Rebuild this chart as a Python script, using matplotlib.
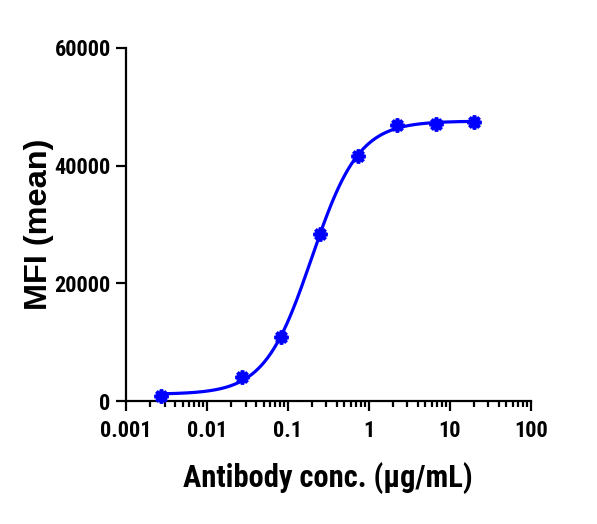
import numpy as np
import matplotlib
matplotlib.use("Agg")
import matplotlib.pyplot as plt
from matplotlib.ticker import LogLocator, NullFormatter, FixedLocator

plt.rcParams['font.family'] = ['Roboto Condensed', 'Liberation Sans', 'DejaVu Sans']
plt.rcParams['font.weight'] = 'bold'

# measured points
conc = [0.00274, 0.0274, 0.0823, 0.247, 0.741, 2.22, 6.67, 20.0]
mfi = [850, 4030, 10830, 28330, 41700, 46910, 47080, 47370]

x_ticks = [0.001, 0.01, 0.1, 1, 10, 100]
x_ticklabels = ["0.001", "0.01", "0.1", "1", "10", "100"]
y_ticks = [0, 20000, 40000, 60000]

blue = "#0000ff"


def fit_4pl(x, y):
    # crude grid search on log EC50 and hill, bottom/top by least squares
    lx = np.log10(np.asarray(x, float))
    y = np.asarray(y, float)
    best = None
    for le in np.linspace(-1.5, 0.0, 301):
        for h in np.linspace(0.5, 3.0, 251):
            f = 1.0 / (1.0 + 10 ** ((le - lx) * h))
            A = np.column_stack([1 - f, f])
            coef, *_ = np.linalg.lstsq(A, y, rcond=None)
            err = np.sum((A @ coef - y) ** 2)
            if best is None or err < best[0]:
                best = (err, coef[0], coef[1], le, h)
    return best[1:]


bottom, top, logec50, hill = fit_4pl(conc, mfi)
xs = np.logspace(np.log10(conc[0]), np.log10(conc[-1]), 400)
ys = bottom + (top - bottom) / (1 + 10 ** ((logec50 - np.log10(xs)) * hill))

fig = plt.figure(figsize=(5.97, 5.24), dpi=100)
ax = fig.add_axes([0.211, 0.2347, 0.678, 0.6737])

ax.plot(xs, ys, color=blue, lw=2.3, zorder=2)
ax.plot(conc, mfi, ls="none", marker=(8, 2, 0), ms=10, mew=2.6,
        color=blue, zorder=3, clip_on=False)

ax.set_xscale("log")
ax.set_xlim(0.001, 100)
ax.set_ylim(0, 60000)
ax.xaxis.set_major_locator(FixedLocator(x_ticks))
ax.set_xticklabels(x_ticklabels)
ax.xaxis.set_minor_locator(LogLocator(base=10, subs=np.arange(2, 10)))
ax.xaxis.set_minor_formatter(NullFormatter())
ax.set_yticks(y_ticks)
ax.set_yticklabels([str(v) for v in y_ticks])

for s in ["top", "right"]:
    ax.spines[s].set_visible(False)
for s in ["left", "bottom"]:
    ax.spines[s].set_linewidth(1.6)

ax.tick_params(which="major", length=7, width=1.6, labelsize=16)
ax.tick_params(axis="x", which="major", pad=7)
ax.tick_params(axis="y", which="major", pad=4)
ax.tick_params(which="minor", length=4, width=1.6)

ax.set_xlabel("Antibody conc. (μg/mL)", fontsize=22, fontweight="bold")
ax.set_ylabel("MFI (mean)", fontsize=23.4, fontweight="bold",
              family=["Liberation Sans", "DejaVu Sans"])
ax.xaxis.set_label_coords(0.5, -0.172)
ax.yaxis.set_label_coords(-0.178, 0.5)

fig.savefig("out.png", dpi=100)
